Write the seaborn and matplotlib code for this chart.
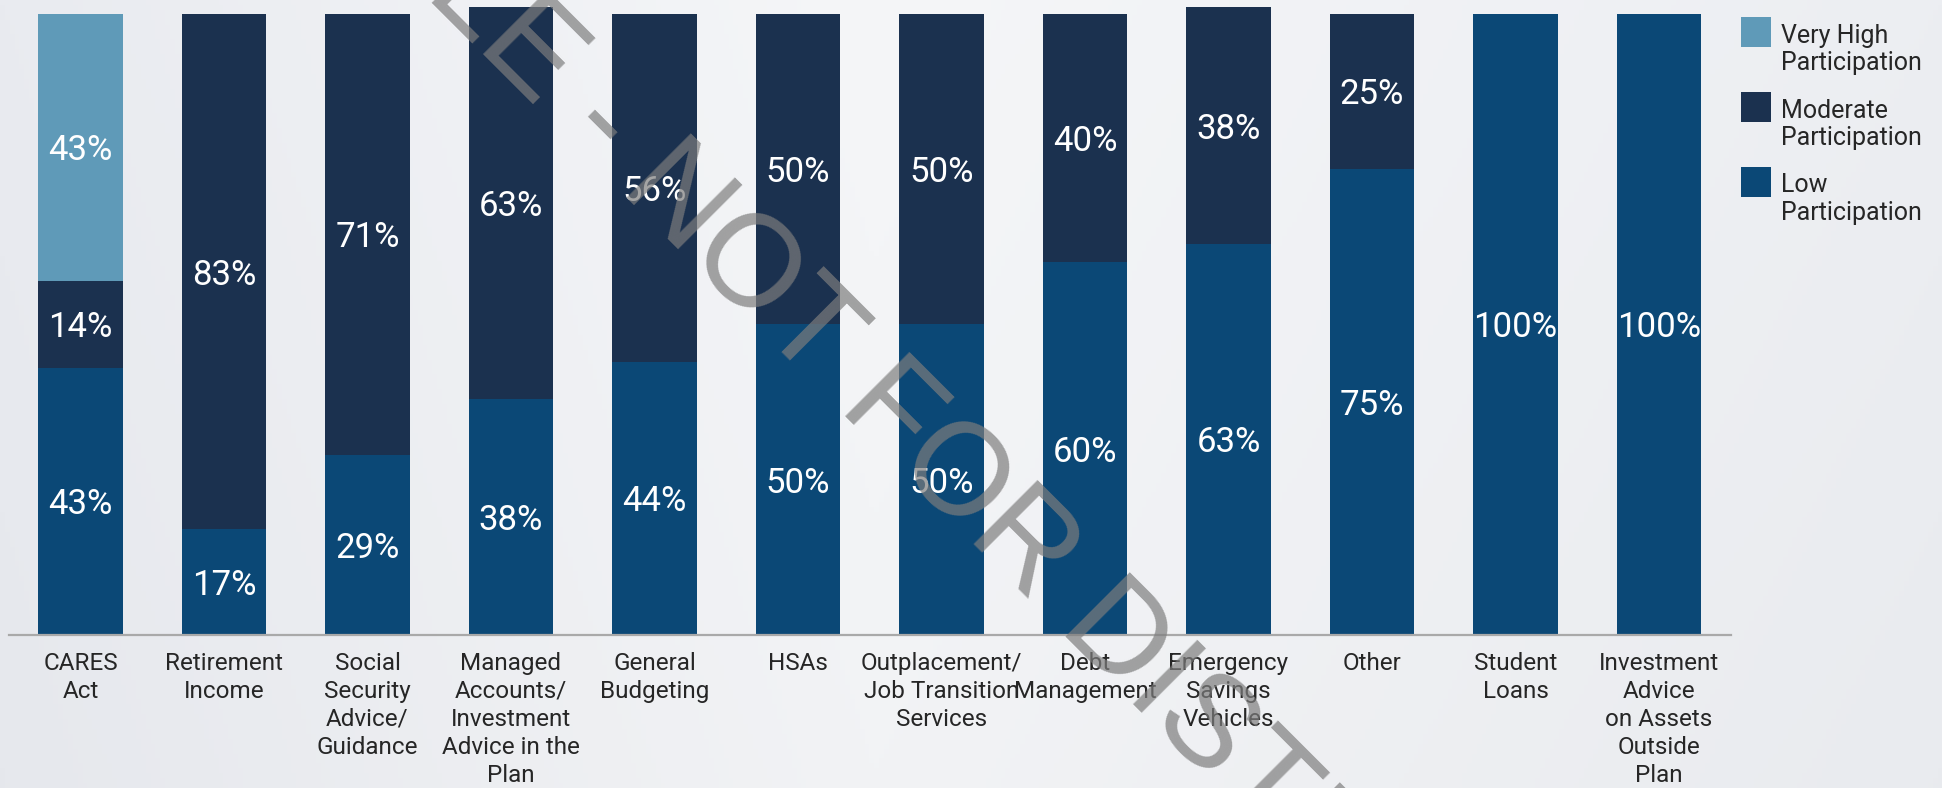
import numpy as np
import pandas as pd
import matplotlib
matplotlib.use("Agg")
import matplotlib.pyplot as plt
import seaborn as sns
from matplotlib.patches import Rectangle

# ---------------- data ----------------
categories = ["CARES\nAct", "Retirement\nIncome", "Social\nSecurity\nAdvice/\nGuidance",
              "Managed\nAccounts/\nInvestment\nAdvice in the\nPlan", "General\nBudgeting", "HSAs",
              "Outplacement/\nJob Transition\nServices", "Debt\nManagement",
              "Emergency\nSavings\nVehicles", "Other", "Student\nLoans",
              "Investment\nAdvice\non Assets\nOutside\nPlan"]
low = [43, 17, 29, 38, 44, 50, 50, 60, 63, 75, 100, 100]
moderate = [14, 83, 71, 63, 56, 50, 50, 40, 38, 25, 0, 0]
very_high = [43, 0, 0, 0, 0, 0, 0, 0, 0, 0, 0, 0]
series_names = ["Very High\nParticipation", "Moderate\nParticipation", "Low\nParticipation"]
colors = ["#5f9ab8", "#1b314f", "#0b4876"]
watermark = "SAMPLE - NOT FOR DISTRIBUTION"

# ---------------- figure ----------------
W, H = 1942, 788
fig = plt.figure(figsize=(W / 100, H / 100), dpi=100)
fig.patch.set_facecolor("#eff0f4")

# subtle background gradient
bg = fig.add_axes([0, 0, 1, 1], zorder=-10)
xs = np.linspace(0, 1, 400)
ys = np.linspace(0, 1, 160)
X, Y = np.meshgrid(xs, ys)
left_c = np.array([233, 235, 240]) / 255
mid_c = np.array([245, 246, 248]) / 255
right_c = np.array([236, 238, 242]) / 255
t1 = np.clip(X / 0.45, 0, 1)[..., None]
t2 = np.clip((X - 0.45) / 0.55, 0, 1)[..., None]
img = np.where((X < 0.45)[..., None], left_c + (mid_c - left_c) * t1, mid_c + (right_c - mid_c) * t2)
img = img - (Y[..., None] * 0.012)
bg.imshow(np.clip(img, 0, 1), aspect="auto", extent=[0, 1, 1, 0])
bg.set_axis_off()

ax = fig.add_axes([8.75 / W, (H - 635) / H, 1722 / W, 635 / H])
ax.patch.set_alpha(0)

df = pd.DataFrame({"category": categories, "low": low, "moderate": moderate, "very_high": very_high})
bottom_mod = np.array(low)
bottom_vh = np.array(low) + np.array(moderate)

common = dict(data=df, x="category", width=0.592, linewidth=0, saturation=1, errorbar=None, ax=ax)
sns.barplot(y="low", color=colors[2], **common)
sns.barplot(y="moderate", color=colors[1], bottom=bottom_mod, **common)
sns.barplot(y="very_high", color=colors[0], bottom=bottom_vh, **common)

ax.set_xlim(-0.5, len(categories) - 0.5)
ax.set_ylim(0, 102.2)
ax.set_xlabel("")
ax.set_ylabel("")
ax.set_yticks([])
for s in ["top", "left", "right"]:
    ax.spines[s].set_visible(False)
ax.spines["bottom"].set_color("#a9a9a9")
ax.spines["bottom"].set_linewidth(1.6)
ax.tick_params(axis="x", length=0, pad=12, labelsize=17.5, labelcolor="#262626")
for lbl in ax.get_xticklabels():
    lbl.set_fontfamily("Roboto")
    lbl.set_linespacing(1.28)

# value labels
for i in range(len(categories)):
    base = 0
    for vals in (low, moderate, very_high):
        v = vals[i]
        if v > 0:
            ax.text(i, base + v / 2, f"{v}%", ha="center", va="center_baseline",
                    color="white", fontsize=25, family="Roboto")
        base += v

# legend
for k, (name, col) in enumerate(zip(series_names, colors)):
    y0 = 17 + 75 * k
    fig.patches.append(Rectangle((1741 / W, 1 - (y0 + 30) / H), 30 / W, 30 / H,
                                 transform=fig.transFigure, facecolor=col, edgecolor="none",
                                 figure=fig))
    fig.text(1781 / W, 1 - (y0 + 6.5) / H, name, ha="left", va="top", fontsize=18,
             color="#262626", family="Roboto", linespacing=1.2)

# watermark
fig.text(935 / W, 1 - 506 / H, watermark, rotation=-45, rotation_mode="anchor",
         ha="center", va="baseline", fontsize=94, family="Liberation Sans",
         color="#7d7d7d", alpha=0.7, zorder=10)

fig.savefig("out.png", dpi=100, facecolor=fig.get_facecolor())
